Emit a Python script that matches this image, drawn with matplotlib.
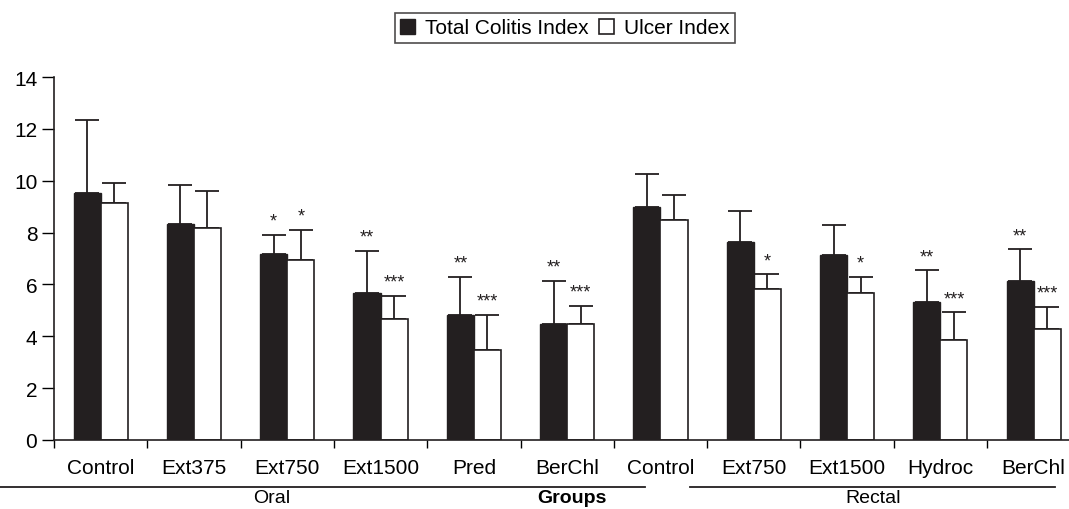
import numpy as np
import matplotlib as mpl
mpl.use('Agg')
from matplotlib import pyplot as plt
from matplotlib.lines import Line2D

plt.rcParams['font.family'] = ['Liberation Sans', 'DejaVu Sans']

# data
groups = ['Control', 'Ext375', 'Ext750', 'Ext1500', 'Pred', 'BerChl',
          'Control', 'Ext750', 'Ext1500', 'Hydroc', 'BerChl']
colitis = [9.53, 8.33, 7.17, 5.67, 4.83, 4.46, 9.0, 7.65, 7.15, 5.31, 6.13]
colitis_err = [2.81, 1.50, 0.73, 1.63, 1.47, 1.67, 1.25, 1.20, 1.13, 1.23, 1.22]
ulcer = [9.15, 8.16, 6.95, 4.67, 3.48, 4.46, 8.5, 5.82, 5.67, 3.84, 4.29]
ulcer_err = [0.77, 1.46, 1.16, 0.90, 1.35, 0.72, 0.95, 0.57, 0.62, 1.08, 0.84]
colitis_sig = ['', '', '*', '**', '**', '**', '', '', '', '**', '**']
ulcer_sig = ['', '', '*', '***', '***', '***', '', '*', '*', '***', '***']

FS = 15


def main():
    fig = plt.figure(figsize=(10.69, 5.10), dpi=100)
    ax = fig.add_axes([54 / 1069, 69 / 510, 1 - 54 / 1069, 363 / 510])
    x = np.arange(len(groups))
    w = 0.29
    ax.bar(x - w / 2, colitis, w, color='#231f20', edgecolor='#231f20', lw=1,
           label='Total Colitis Index', zorder=2)
    ax.bar(x + w / 2, ulcer, w, color='white', edgecolor='#231f20', lw=1.2,
           label='Ulcer Index', zorder=2)
    ax.errorbar(x - w / 2, colitis, yerr=[np.zeros(len(x)), colitis_err],
                fmt='none', ecolor='#231f20', elinewidth=1.3, capsize=8.5,
                capthick=1.3, zorder=1)
    ax.errorbar(x + w / 2, ulcer, yerr=[np.zeros(len(x)), ulcer_err],
                fmt='none', ecolor='#231f20', elinewidth=1.3, capsize=8.5,
                capthick=1.3, zorder=1)
    for i in range(len(x)):
        if colitis_sig[i]:
            ax.text(x[i] - w / 2, colitis[i] + colitis_err[i] + 0.2, colitis_sig[i],
                    ha='center', va='bottom', fontsize=13, color='#231f20')
        if ulcer_sig[i]:
            ax.text(x[i] + w / 2, ulcer[i] + ulcer_err[i] + 0.2, ulcer_sig[i],
                    ha='center', va='bottom', fontsize=13, color='#231f20')

    ax.set_xlim(-0.5, -0.5 + (1069 - 54) / 93.3)
    ax.set_ylim(0, 14)
    ax.set_yticks(range(0, 15, 2))
    ax.set_xticks(np.arange(len(groups)) - 0.5)
    ax.set_xticklabels([])
    ax.set_xticks(x, minor=True)
    ax.set_xticklabels(groups, minor=True)
    ax.tick_params(axis='x', which='minor', length=0, pad=13, labelsize=FS)
    ax.tick_params(axis='x', which='major', length=6, width=1, direction='out')
    ax.tick_params(axis='y', length=9, width=1, labelsize=FS, pad=3)
    for s in ['top', 'right']:
        ax.spines[s].set_visible(False)
    for s in ['left', 'bottom']:
        ax.spines[s].set_linewidth(1.2)
        ax.spines[s].set_color('#231f20')

    # group underlines and labels
    fig.add_artist(Line2D([0 / 1069, 645 / 1069], [1 - 488 / 510] * 2,
                          color='#231f20', lw=1.3))
    fig.add_artist(Line2D([690 / 1069, 1055 / 1069], [1 - 488 / 510] * 2,
                          color='#231f20', lw=1.3))
    fig.text(272 / 1069, 1 - 499 / 510, 'Oral', ha='center', va='center', fontsize=14)
    fig.text(572 / 1069, 1 - 499 / 510, 'Groups', ha='center', va='center',
             fontsize=14, fontweight='bold')
    fig.text(873 / 1069, 1 - 499 / 510, 'Rectal', ha='center', va='center', fontsize=14)

    leg = fig.legend(loc='center', bbox_to_anchor=(565 / 1069, 1 - 29 / 510), ncol=2,
                     frameon=True, fancybox=False, fontsize=FS, handlelength=0.7,
                     handleheight=0.7, handletextpad=0.5, columnspacing=0.5,
                     borderpad=0.25, borderaxespad=0)
    leg.get_frame().set_edgecolor('#231f20')
    leg.get_frame().set_linewidth(1.2)

    fig.savefig('out.png', dpi=100)


if __name__ == '__main__':
    main()
